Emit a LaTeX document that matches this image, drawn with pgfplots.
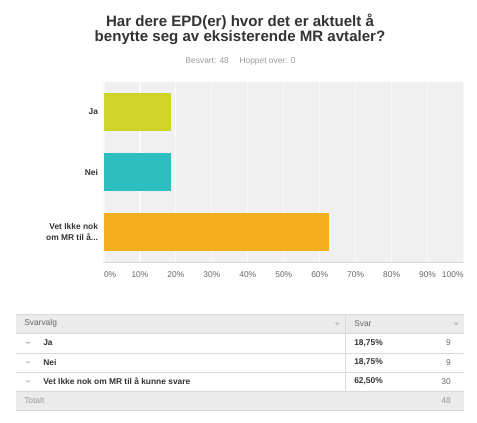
\documentclass[border=0pt]{standalone}
\usepackage{pgfplots}
\pgfplotsset{compat=1.18}
\usepackage{fontspec}
\setmainfont{Liberation Sans}
\definecolor{cja}{HTML}{CFD42A}
\definecolor{cnei}{HTML}{2FBEBE}
\definecolor{cvet}{HTML}{F6AE1E}
\definecolor{bgc}{HTML}{F0F0F0}
\definecolor{txt}{HTML}{333333}
\definecolor{txtl}{HTML}{666666}
\definecolor{sub}{HTML}{999999}
\definecolor{hdr}{HTML}{EBEBEB}
\definecolor{lin}{HTML}{D9D9D9}
\newcommand{\dotsr}{.{}.{}.}
\begin{document}
\begin{tikzpicture}
\begin{axis}[
  at={(78pt,120pt)}, anchor=south west,
  scale only axis, width=269.6pt, height=135pt,
  xbar, bar shift=0pt, bar width=28.5pt,
  xmin=0, xmax=100, ymin=-0.5, ymax=2.5, y dir=reverse,
  ytick={0,1,2},
  yticklabels={Ja, Nei, {Vet Ikke nok\\om MR til å\dotsr}},
  xtick={0,10,20,30,40,50,60,70,80,90,100},
  xticklabels={\makebox[0pt][l]{0\%},10\%,20\%,30\%,40\%,50\%,60\%,70\%,80\%,90\%,\makebox[0pt][r]{100\%}},
  major tick length=0pt,
  axis line style={draw=none},
  axis background/.style={fill=bgc},
  xmajorgrids, grid style={color=white!70!bgc, line width=0.9pt},
  xticklabel style={font=\fontsize{6.3}{7.5}\selectfont, text=txtl, yshift=-4pt},
  yticklabel style={font=\bfseries\fontsize{6.3}{8}\selectfont, text=txt, align=right, xshift=-1pt},
]
\addplot[fill=cja, draw=none] coordinates {(18.75,0)};
\addplot[fill=cnei, draw=none] coordinates {(18.75,1)};
\addplot[fill=cvet, draw=none] coordinates {(62.5,2)};
\end{axis}
\begin{scope}[x=0.75pt,y=-0.75pt,shift={(0pt,316.5pt)}]
\path[use as bounding box] (0,0) rectangle (477,422);
\draw[lin, line width=0.75pt] (103,262) -- (464,262);
% title
\node[anchor=base, font=\bfseries\fontsize{11.3}{13}\selectfont, text=txt] at (240,26.7) {Har dere EPD(er) hvor det er aktuelt å};
\node[anchor=base, font=\bfseries\fontsize{11.3}{13}\selectfont, text=txt] at (240,42) {benytte seg av eksisterende MR avtaler?};
\node[anchor=base, font=\fontsize{6.3}{7.5}\selectfont, text=sub] at (240.5,64) {Besvart: 48\hspace{8pt}Hoppet over: 0};
% table
\fill[hdr] (16,314) rectangle (464,333);
\fill[hdr] (16,391) rectangle (464,410);
\draw[lin, line width=0.6pt] (16,314) -- (464,314);
\draw[lin, line width=0.6pt] (16,333) -- (464,333);
\draw[lin, line width=0.6pt] (16,353) -- (464,353);
\draw[lin, line width=0.6pt] (16,372) -- (464,372);
\draw[lin, line width=0.6pt] (16,391) -- (464,391);
\draw[lin, line width=0.6pt] (16,410) -- (464,410);
\draw[lin, line width=0.6pt] (345.5,314) -- (345.5,391);
\fill[sub!70] (334.5,322.5) -- (339.5,322.5) -- (337,325) -- cycle;
\fill[sub!70] (453.5,322.5) -- (458.5,322.5) -- (456,325) -- cycle;
\foreach \yy in {343,362.5,381.5} {\fill[sub!70] (25,\yy-1) -- (31,\yy-1) -- (28,\yy+0.8) -- cycle;}
\begin{scope}[every node/.style={font=\fontsize{6.3}{7.5}\selectfont, inner sep=0pt}]
\node[anchor=west, text=txtl] at (24,323.5) {Svarvalg};
\node[anchor=west, text=txtl] at (354,323.5) {Svar};
\node[anchor=west, text=txt, font=\bfseries\fontsize{6.3}{7.5}\selectfont] at (43,343) {Ja};
\node[anchor=west, text=txt, font=\bfseries\fontsize{6.3}{7.5}\selectfont] at (43,362.5) {Nei};
\node[anchor=west, text=txt, font=\bfseries\fontsize{6.3}{7.5}\selectfont] at (43,381.5) {Vet Ikke nok om MR til å kunne svare};
\node[anchor=west, text=txt, font=\bfseries\fontsize{6.3}{7.5}\selectfont] at (354,343) {18,75\%};
\node[anchor=west, text=txt, font=\bfseries\fontsize{6.3}{7.5}\selectfont] at (354,362.5) {18,75\%};
\node[anchor=west, text=txt, font=\bfseries\fontsize{6.3}{7.5}\selectfont] at (354,381.5) {62,50\%};
\node[anchor=east, text=txtl] at (451,343) {9};
\node[anchor=east, text=txtl] at (451,362.5) {9};
\node[anchor=east, text=txtl] at (451,381.5) {30};
\node[anchor=west, text=sub] at (24,400.5) {Totalt};
\node[anchor=east, text=sub] at (451,400.5) {48};
\end{scope}
\end{scope}
\end{tikzpicture}
\end{document}
